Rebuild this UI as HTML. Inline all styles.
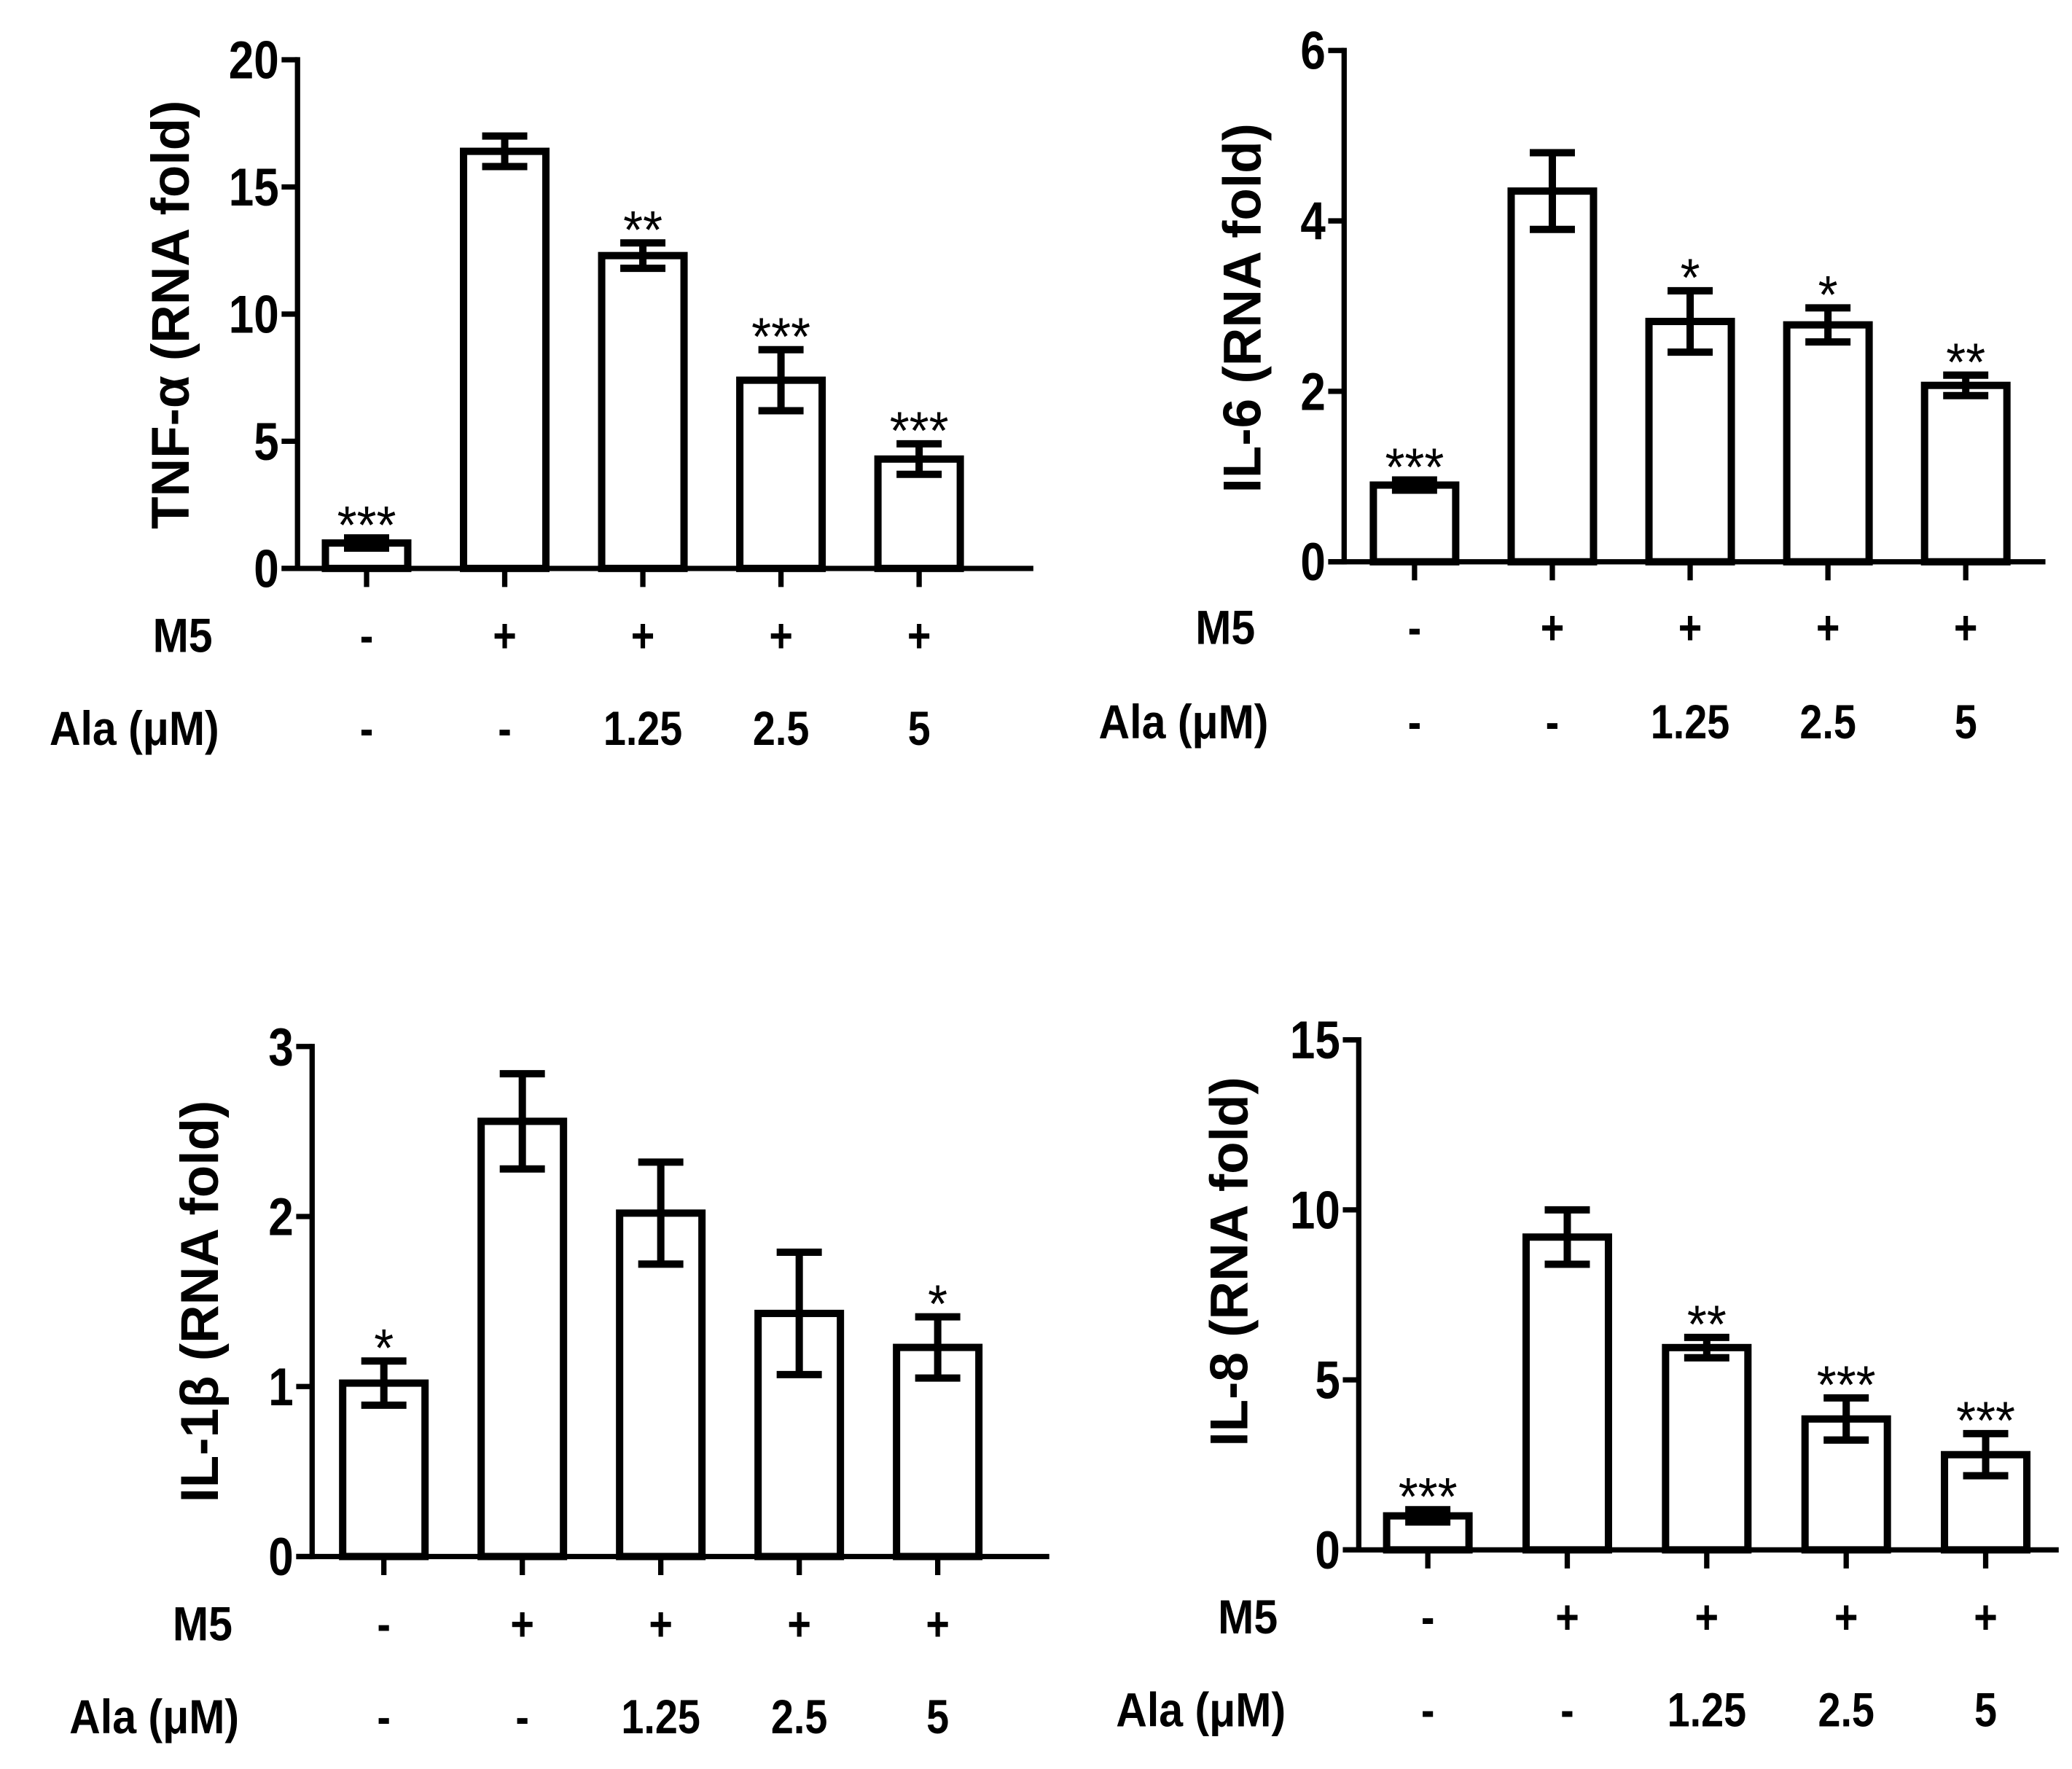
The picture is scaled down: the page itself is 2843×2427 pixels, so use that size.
<!DOCTYPE html>
<html><head><meta charset="utf-8"><style>
html,body{margin:0;padding:0;background:#fff;}
svg{display:block;}
text{font-family:"Liberation Sans",Arial,sans-serif;font-weight:bold;fill:#000;}
</style></head><body>
<svg id="fig" width="2843" height="2427" viewBox="0 0 1560 1332" preserveAspectRatio="none" xmlns="http://www.w3.org/2000/svg"></svg>
<script>
const m5Labels = ["-","+","+","+","+"];
const alaLabels = ["-","-","1.25","2.5","5"];
const tnfValues = [1.0,16.4,12.3,7.4,4.3];
const tnfErrors = [0.2,0.6,0.5,1.2,0.6];
const tnfStars = ["***","","**","***","***"];
const tnfTicks = [0,5,10,15,20];
const il6Values = [0.9,4.35,2.82,2.78,2.07];
const il6Errors = [0.06,0.45,0.36,0.2,0.12];
const il6Stars = ["***","","*","*","**"];
const il6Ticks = [0,2,4,6];
const il1Values = [1.02,2.56,2.02,1.43,1.23];
const il1Errors = [0.13,0.28,0.3,0.36,0.18];
const il1Stars = ["*","","","","*"];
const il1Ticks = [0,1,2,3];
const il8Values = [1.0,9.2,5.95,3.85,2.8];
const il8Errors = [0.18,0.8,0.3,0.62,0.62];
const il8Stars = ["***","","**","***","***"];
const il8Ticks = [0,5,10,15];

const svg = document.getElementById('fig');
const NS = 'http://www.w3.org/2000/svg';
function mk(tag, attrs, parent){const e=document.createElementNS(NS,tag);for(const k in attrs)e.setAttribute(k,attrs[k]);parent.appendChild(e);return e;}
function txt(parent, str, x, y, size, anchor, sx, weight){
  const t = mk('text',{x:0,y:0,'text-anchor':anchor,'font-size':size,transform:`translate(${x},${y}) scale(${sx},1)`},parent);
  if(weight) t.style.fontWeight = weight;
  t.textContent = str;
  return t;
}

const panels = [
 {id:'tnf',ax:224,top:45,zero:428,xend:778,c0:276,step:104,title:'TNF-\u03b1 (RNA fold)',tx:128,ty:237,m5y:478,alay:548,m5x:160,alax:165,vals:tnfValues,errs:tnfErrors,stars:tnfStars,ticks:tnfTicks},
 {id:'il6',ax:1012,top:38,zero:423,xend:1540,c0:1065,step:103.75,title:'IL-6 (RNA fold)',tx:935,ty:232,m5y:472,alay:543,m5x:945,alax:955,vals:il6Values,errs:il6Errors,stars:il6Stars,ticks:il6Ticks},
 {id:'il1b',ax:235,top:788,zero:1172,xend:790,c0:289,step:104.25,title:'IL-1\u03b2 (RNA fold)',tx:150,ty:980,m5y:1222,alay:1292,m5x:175,alax:180,vals:il1Values,errs:il1Errors,stars:il1Stars,ticks:il1Ticks},
 {id:'il8',ax:1023,top:783,zero:1167,xend:1550,c0:1075,step:105,title:'IL-8 (RNA fold)',tx:925,ty:950,m5y:1217,alay:1287,m5x:962,alax:968,vals:il8Values,errs:il8Errors,stars:il8Stars,ticks:il8Ticks}
];

panels.forEach(p=>{
  const g = mk('g',{},svg);
  
  
  const maxT = p.ticks[p.ticks.length-1];
  const y = v => p.zero - (v/maxT)*(p.zero-p.top);
  const x = i => p.c0 + i*p.step;
  const bw = 62;
  p.vals.forEach((v,i)=>{
    const r = mk('rect',{x:x(i)-bw/2,y:y(v),width:bw,height:p.zero-y(v),fill:'#fff',stroke:'#000','stroke-width':5.5},g);
    
    
    const e = p.errs[i];
    const eg = mk('g',{stroke:'#000','stroke-width':5.5,fill:'none'},g);
    
    
    mk('line',{x1:x(i),x2:x(i),y1:y(v+e),y2:y(v-e)},eg);
    mk('line',{x1:x(i)-17,x2:x(i)+17,y1:y(v+e),y2:y(v+e)},eg);
    mk('line',{x1:x(i)-17,x2:x(i)+17,y1:y(v-e),y2:y(v-e)},eg);
    if(p.stars[i]){
      const s = txt(g, p.stars[i], x(i), y(v+e)+4, 40, 'middle', 0.95, 'normal');
      
      
    }
    mk('line',{x1:x(i),x2:x(i),y1:p.zero,y2:p.zero+14,stroke:'#000','stroke-width':4},g);
    const m = txt(g, m5Labels[i], x(i), p.m5y+13, 36, 'middle', 0.85);
    
    
    const a = txt(g, alaLabels[i], x(i), p.alay+13, 36, 'middle', 0.85);
    
    
  });
  const ya = mk('line',{x1:p.ax,x2:p.ax,y1:p.top-2,y2:p.zero+2,stroke:'#000','stroke-width':4},g);
  
  
  const xa = mk('line',{x1:p.ax-12,x2:p.xend,y1:p.zero,y2:p.zero,stroke:'#000','stroke-width':4},g);
  
  
  p.ticks.forEach(t=>{
    mk('line',{x1:p.ax-12,x2:p.ax,y1:y(t),y2:y(t),stroke:'#000','stroke-width':4},g);
    const tl = txt(g, String(t), p.ax-14, y(t)+14, 40, 'end', 0.85);
    
    
  });
  const tt = mk('text',{x:0,y:0,'text-anchor':'middle','font-size':40,transform:`translate(${p.tx+14},${p.ty}) rotate(-90)`},g);
  tt.textContent = p.title;
  
  
  const ml = txt(g, 'M5', p.m5x, p.m5y+13, 36, 'end', 0.9);
  
  
  const al = txt(g, 'Ala (\u03bcM)', p.alax, p.alay+13, 36, 'end', 0.9);
  
  
});
</script>
</body></html>
